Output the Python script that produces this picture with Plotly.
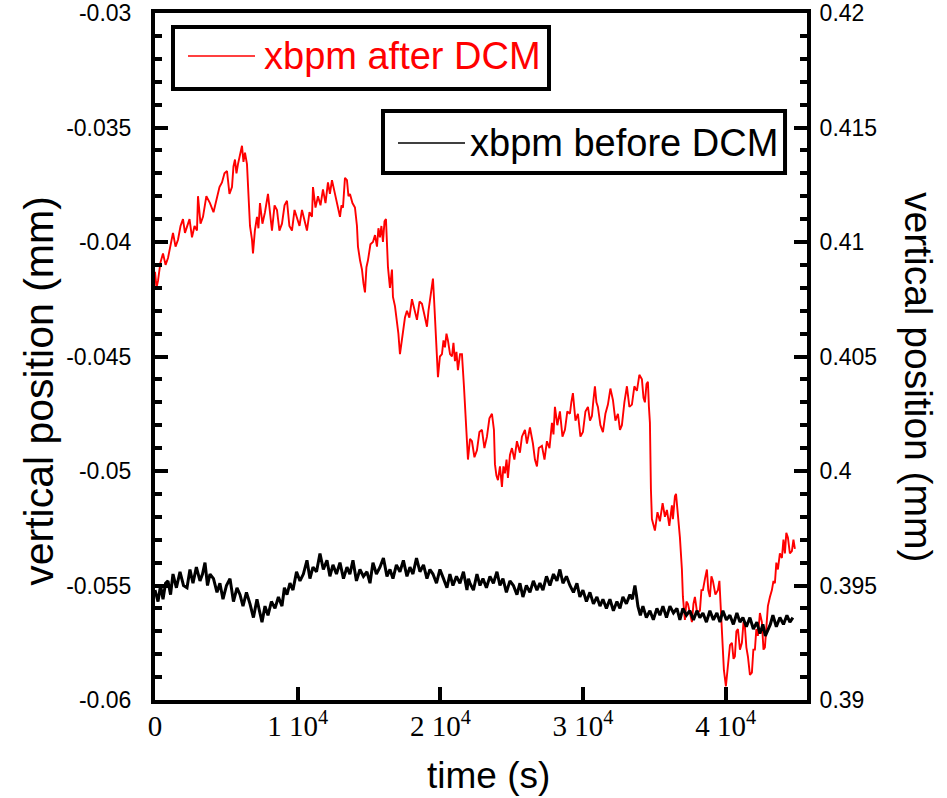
import plotly.graph_objects as go

# ---------------- data ----------------
red_t = [0, 105, 210, 380, 561, 740, 911, 1090, 1261, 1440, 1612, 1790, 1962, 2100, 2243, 2420, 2593, 2770, 2943, 3013,
         3190, 3364, 3600, 3854, 4100, 4345, 4520, 4695, 4870, 5046, 5220, 5396, 5500, 5606, 5710, 5817, 5950, 6097, 6200, 6307,
         6447, 6517, 6658, 6798, 6868, 7000, 7148, 7250, 7358, 7530, 7709, 7919, 8050, 8199, 8380, 8550, 8720, 8900, 9080, 9250,
         9420, 9601, 9780, 9951, 10130, 10302, 10480, 10652, 10830, 11003, 11073, 11250, 11423, 11600, 11773, 11950, 12124, 12260, 12404, 12580,
         12755, 12860, 12965, 13070, 13175, 13315, 13455, 13560, 13666, 13840, 14016, 14156, 14226, 14370, 14507, 14610, 14717, 14820, 14927, 15100,
         15277, 15420, 15558, 15660, 15768, 15870, 15978, 16088, 16188, 16329, 16469, 16609, 16679, 16820, 16959, 17060, 17170, 17270, 17380, 17520,
         17660, 17830, 18011, 18190, 18361, 18540, 18711, 18890, 19062, 19170, 19272, 19380, 19482, 19560, 19622, 19763, 19833, 19970, 20113, 20220,
         20323, 20430, 20533, 20680, 20814, 20920, 21024, 21130, 21234, 21380, 21515, 21655, 21725, 21865, 21935, 22080, 22215, 22390, 22566, 22740,
         22916, 23090, 23267, 23440, 23617, 23757, 23827, 23930, 24037, 24180, 24318, 24420, 24528, 24640, 24738, 24880, 25019, 25190, 25369, 25579,
         25719, 25930, 26070, 26280, 26420, 26490, 26630, 26771, 26900, 27121, 27300, 27471, 27650, 27822, 27930, 28032, 28200, 28382, 28560, 28733,
         28900, 29083, 29180, 29293, 29470, 29644, 29820, 29994, 30170, 30345, 30490, 30625, 30730, 30835, 30940, 31045, 31220, 31396, 31570, 31746,
         31920, 32097, 32270, 32447, 32590, 32727, 32900, 33078, 33250, 33428, 33600, 33779, 33950, 34129, 34240, 34339, 34450, 34549, 34620, 34690,
         34760, 34830, 35040, 35220, 35390, 35580, 35741, 35881, 36050, 36231, 36302, 36442, 36520, 36582, 36652, 36792, 36932, 37002, 37142, 37250,
         37353, 37500, 37633, 37740, 37843, 38000, 38194, 38300, 38404, 38550, 38684, 38780, 38894, 39000, 39105, 39280, 39455, 39560, 39665, 39805,
         39876, 40016, 40156, 40300, 40436, 40550, 40646, 40750, 40857, 41000, 41137, 41250, 41347, 41450, 41558, 41700, 41838, 41940, 42048, 42150,
         42258, 42400, 42539, 42650, 42749, 42850, 42959, 43100, 43239, 43350, 43450, 43550, 43660, 43800, 43940, 44050, 44150, 44250, 44361, 44500,
         44641, 44750, 44851]
red_v = [-0.0413, -0.0420, -0.0417, -0.0409, -0.0405, -0.0410, -0.0407, -0.0401, -0.0396, -0.0402, -0.0399, -0.0393, -0.0390, -0.0396, -0.0393, -0.0390, -0.0398, -0.0393, -0.0395, -0.0380,
         -0.0392, -0.0389, -0.0380, -0.0383, -0.0387, -0.0380, -0.0376, -0.0374, -0.0370, -0.0369, -0.0379, -0.0376, -0.0367, -0.0364, -0.0370, -0.0366, -0.0362, -0.0358, -0.0365, -0.0361,
         -0.0366, -0.0376, -0.0393, -0.0399, -0.0405, -0.0395, -0.0389, -0.0394, -0.0383, -0.0392, -0.0387, -0.0379, -0.0388, -0.0395, -0.0384, -0.0386, -0.0395, -0.0392, -0.0384, -0.0382,
         -0.0393, -0.0395, -0.0386, -0.0389, -0.0393, -0.0386, -0.0390, -0.0395, -0.0387, -0.0389, -0.0376, -0.0385, -0.0380, -0.0384, -0.0377, -0.0383, -0.0374, -0.0379, -0.0373, -0.0378,
         -0.0383, -0.0386, -0.0389, -0.0384, -0.0385, -0.0372, -0.0373, -0.0380, -0.0379, -0.0383, -0.0385, -0.0393, -0.0402, -0.0408, -0.0412, -0.0418, -0.0422, -0.0411, -0.0408, -0.0401,
         -0.0400, -0.0397, -0.0402, -0.0394, -0.0398, -0.0393, -0.0400, -0.0391, -0.0390, -0.0411, -0.0420, -0.0412, -0.0424, -0.0428, -0.0434, -0.0440, -0.0449, -0.0444, -0.0440, -0.0433,
         -0.0430, -0.0433, -0.0425, -0.0430, -0.0434, -0.0426, -0.0427, -0.0432, -0.0437, -0.0430, -0.0425, -0.0422, -0.0416, -0.0425, -0.0434, -0.0452, -0.0459, -0.0450, -0.0449, -0.0443,
         -0.0446, -0.0440, -0.0443, -0.0449, -0.0450, -0.0444, -0.0452, -0.0448, -0.0456, -0.0449, -0.0449, -0.0463, -0.0472, -0.0490, -0.0495, -0.0486, -0.0487, -0.0494, -0.0491, -0.0483,
         -0.0482, -0.0490, -0.0485, -0.0477, -0.0475, -0.0482, -0.0497, -0.0502, -0.0504, -0.0498, -0.0507, -0.0498, -0.0501, -0.0495, -0.0503, -0.0493, -0.0490, -0.0495, -0.0487, -0.0492,
         -0.0485, -0.0482, -0.0488, -0.0481, -0.0486, -0.0488, -0.0495, -0.0498, -0.0490, -0.0489, -0.0495, -0.0487, -0.0490, -0.0479, -0.0484, -0.0472, -0.0480, -0.0474, -0.0485, -0.0482,
         -0.0474, -0.0475, -0.0470, -0.0466, -0.0478, -0.0475, -0.0485, -0.0483, -0.0474, -0.0472, -0.0478, -0.0476, -0.0469, -0.0463, -0.0470, -0.0472, -0.0480, -0.0483, -0.0475, -0.0471,
         -0.0464, -0.0469, -0.0478, -0.0475, -0.0482, -0.0480, -0.0470, -0.0463, -0.0472, -0.0471, -0.0463, -0.0465, -0.0458, -0.0460, -0.0468, -0.0470, -0.0462, -0.0461, -0.0472, -0.0479,
         -0.0508, -0.0521, -0.0526, -0.0518, -0.0522, -0.0514, -0.0520, -0.0517, -0.0524, -0.0515, -0.0521, -0.0511, -0.0510, -0.0514, -0.0518, -0.0529, -0.0543, -0.0555, -0.0565, -0.0557,
         -0.0558, -0.0563, -0.0566, -0.0558, -0.0555, -0.0562, -0.0561, -0.0552, -0.0552, -0.0547, -0.0543, -0.0552, -0.0555, -0.0546, -0.0548, -0.0554, -0.0552, -0.0548, -0.0561, -0.0575,
         -0.0587, -0.0594, -0.0584, -0.0576, -0.0575, -0.0582, -0.0581, -0.0570, -0.0569, -0.0578, -0.0575, -0.0566, -0.0568, -0.0577, -0.0581, -0.0589, -0.0588, -0.0578, -0.0578, -0.0569,
         -0.0572, -0.0562, -0.0566, -0.0578, -0.0577, -0.0570, -0.0559, -0.0555, -0.0552, -0.0548, -0.0549, -0.0540, -0.0543, -0.0536, -0.0538, -0.0530, -0.0536, -0.0527, -0.0529, -0.0536,
         -0.0535, -0.0530, -0.0534]

black_t = [0, 210, 390, 561, 740, 911, 1090, 1261, 1500, 1752, 2000, 2243, 2450, 2663, 2900, 3154, 3330, 3504, 3680, 3854,
           4100, 4345, 4550, 4765, 5010, 5256, 5500, 5747, 5960, 6167, 6410, 6658, 6900, 7148, 7320, 7499, 7710, 7919, 8160, 8410,
           8650, 8900, 9070, 9250, 9460, 9671, 9920, 10162, 10400, 10652, 10860, 11073, 11320, 11563, 11800, 12054, 12260, 12474, 12720, 12965,
           13210, 13455, 13660, 13876, 14120, 14366, 14610, 14857, 15070, 15277, 15520, 15768, 16010, 16259, 16470, 16679, 16920, 17170, 17410, 17660,
           17870, 18081, 18330, 18571, 18820, 19062, 19270, 19482, 19730, 19973, 20220, 20463, 20670, 20884, 21130, 21374, 21620, 21865, 21970, 22075,
           22320, 22566, 22780, 22986, 23230, 23477, 23720, 23967, 24180, 24388, 24630, 24878, 25120, 25369, 25580, 25789, 26030, 26280, 26520, 26771,
           26980, 27191, 27440, 27682, 27930, 28172, 28380, 28593, 28840, 29083, 29330, 29574, 29780, 29994, 30240, 30485, 30730, 30975, 31190, 31396,
           31640, 31886, 32130, 32377, 32590, 32797, 33040, 33288, 33460, 33638, 33740, 33848, 34020, 34199, 34440, 34690, 34930, 35180, 35390, 35601,
           35850, 36091, 36340, 36582, 36790, 37002, 37250, 37493, 37740, 37984, 38190, 38404, 38650, 38894, 39140, 39385, 39600, 39805, 40050, 40296,
           40540, 40786, 41000, 41207, 41450, 41698, 41940, 42188, 42400, 42609, 42780, 42959, 43130, 43310, 43550, 43800, 44050, 44291, 44500, 44711]
black_v = [0.3948, 0.3943, 0.3950, 0.3944, 0.3951, 0.3952, 0.3946, 0.3955, 0.3949, 0.3956, 0.3950, 0.3949, 0.3957, 0.3951, 0.3958, 0.3952, 0.3955, 0.3960, 0.3950, 0.3955,
           0.3953, 0.3947, 0.3951, 0.3944, 0.3950, 0.3953, 0.3943, 0.3949, 0.3946, 0.3941, 0.3947, 0.3942, 0.3936, 0.3944, 0.3939, 0.3934, 0.3941, 0.3937, 0.3943, 0.3940,
           0.3945, 0.3941, 0.3949, 0.3946, 0.3951, 0.3948, 0.3956, 0.3952, 0.3955, 0.3961, 0.3953, 0.3958, 0.3956, 0.3964, 0.3957, 0.3961, 0.3954, 0.3959, 0.3955, 0.3960,
           0.3953, 0.3958, 0.3955, 0.3961, 0.3952, 0.3957, 0.3954, 0.3956, 0.3951, 0.3960, 0.3955, 0.3958, 0.3962, 0.3954, 0.3957, 0.3953, 0.3959, 0.3956, 0.3961, 0.3954,
           0.3958, 0.3955, 0.3962, 0.3956, 0.3959, 0.3953, 0.3957, 0.3955, 0.3951, 0.3957, 0.3953, 0.3949, 0.3955, 0.3950, 0.3954, 0.3951, 0.3956, 0.3948, 0.3953, 0.3951,
           0.3948, 0.3955, 0.3950, 0.3953, 0.3949, 0.3954, 0.3951, 0.3956, 0.3950, 0.3953, 0.3947, 0.3952, 0.3950, 0.3946, 0.3951, 0.3945, 0.3950, 0.3947, 0.3952, 0.3948,
           0.3951, 0.3948, 0.3954, 0.3950, 0.3955, 0.3952, 0.3957, 0.3951, 0.3954, 0.3950, 0.3947, 0.3951, 0.3945, 0.3948, 0.3943, 0.3947, 0.3942, 0.3945, 0.3941, 0.3944,
           0.3940, 0.3944, 0.3939, 0.3943, 0.3940, 0.3945, 0.3942, 0.3946, 0.3944, 0.3950, 0.3946, 0.3941, 0.3937, 0.3941, 0.3936, 0.3939, 0.3935, 0.3940, 0.3937, 0.3941,
           0.3936, 0.3941, 0.3938, 0.3940, 0.3935, 0.3940, 0.3937, 0.3939, 0.3935, 0.3939, 0.3936, 0.3938, 0.3934, 0.3939, 0.3935, 0.3938, 0.3934, 0.3939, 0.3935, 0.3937,
           0.3933, 0.3938, 0.3934, 0.3936, 0.3932, 0.3936, 0.3931, 0.3934, 0.3929, 0.3933, 0.3928, 0.3931, 0.3933, 0.3937, 0.3932, 0.3936, 0.3933, 0.3937, 0.3934, 0.3936]

x_tickvals = [0, 10000, 20000, 30000, 40000]
x_ticktext = ["0", "1 10<sup>4</sup>", "2 10<sup>4</sup>", "3 10<sup>4</sup>", "4 10<sup>4</sup>"]
yl_tickvals = [-0.06, -0.055, -0.05, -0.045, -0.04, -0.035, -0.03]
yl_ticktext = ["-0.06", "-0.055", "-0.05", "-0.045", "-0.04", "-0.035", "-0.03"]
yr_tickvals = [0.39, 0.395, 0.40, 0.405, 0.41, 0.415, 0.42]
yr_ticktext = ["0.39", "0.395", "0.4", "0.405", "0.41", "0.415", "0.42"]

legend_red = "xbpm after DCM"
legend_black = "xbpm before DCM"
x_title = "time (s)"
y_title = "vertical position (mm)"

SANS = "Liberation Sans, Arial, sans-serif"
SERIF = "Liberation Serif, Times New Roman, serif"

fig = go.Figure()
fig.add_trace(go.Scatter(x=red_t, y=red_v, mode="lines", line=dict(color="#ff0000", width=1.9),
                         name=legend_red, yaxis="y", showlegend=False))
fig.add_trace(go.Scatter(x=black_t, y=black_v, mode="lines", line=dict(color="#000000", width=3),
                         name=legend_black, yaxis="y2", showlegend=False))

axis_common = dict(showline=True, linewidth=4, linecolor="black", showgrid=False, zeroline=False,
                   ticks="inside", tickwidth=4, tickcolor="black", ticklen=13, automargin=False,
                   ticklabeloverflow="allow")

fig.update_layout(
    template="none",
    width=947, height=798,
    margin=dict(l=155, r=140, t=13, b=98, autoexpand=False),
    paper_bgcolor="white", plot_bgcolor="white",
    showlegend=False,
    xaxis=dict(range=[0, 45700], tickvals=x_tickvals, ticktext=x_ticktext, mirror=True,
               tickfont=dict(family=SERIF, size=29, color="black"), ticklabelstandoff=-3,
               **axis_common),
    yaxis=dict(range=[-0.06, -0.03], tickvals=yl_tickvals, ticktext=yl_ticktext,
               tickfont=dict(family=SANS, size=23, color="black"), ticklabelstandoff=15,
               minor=dict(ticks="inside", ticklen=7, tickwidth=4, tickcolor="black", dtick=0.001),
               **axis_common),
    yaxis2=dict(range=[0.39, 0.42], tickvals=yr_tickvals, ticktext=yr_ticktext, overlaying="y", side="right",
                tickfont=dict(family=SANS, size=23, color="black"), ticklabelstandoff=4,
                minor=dict(ticks="inside", ticklen=7, tickwidth=4, tickcolor="black", dtick=0.001),
                **axis_common),
)

# axis titles
fig.add_annotation(text=x_title, xref="paper", yref="paper", x=0.511, y=-0.11, xanchor="center", yanchor="middle",
                   showarrow=False, font=dict(family=SANS, size=37, color="black"))
fig.add_annotation(text=y_title, xref="paper", yref="paper", x=-0.178, y=0.45, xanchor="center", yanchor="middle",
                   textangle=-90, showarrow=False, font=dict(family=SANS, size=41, color="black"))
fig.add_annotation(text=y_title, xref="paper", yref="paper", x=1.172, y=0.47, xanchor="center", yanchor="middle",
                   textangle=90, showarrow=False, font=dict(family=SANS, size=39, color="black"))

# legend boxes (drawn manually)
fig.add_shape(type="rect", xref="paper", yref="paper", x0=0.0276, x1=0.6043, y0=0.8894, y1=0.9796,
              line=dict(color="black", width=4), fillcolor="white", layer="above")
fig.add_shape(type="line", xref="paper", yref="paper", x0=0.0506, x1=0.1534, y0=0.9374, y1=0.9374,
              line=dict(color="#ff0000", width=1.3), layer="above")
fig.add_annotation(text=legend_red, xref="paper", yref="paper", x=0.1641, y=0.9374, xanchor="left", yanchor="middle",
                   showarrow=False, font=dict(family=SANS, size=38, color="#ff0000"))

fig.add_shape(type="rect", xref="paper", yref="paper", x0=0.3497, x1=0.9663, y0=0.7671, y1=0.8574,
              line=dict(color="black", width=4), fillcolor="white", layer="above")
fig.add_shape(type="line", xref="paper", yref="paper", x0=0.3727, x1=0.4755, y0=0.8108, y1=0.8108,
              line=dict(color="black", width=1.3), layer="above")
fig.add_annotation(text=legend_black, xref="paper", yref="paper", x=0.480, y=0.8108, xanchor="left", yanchor="middle",
                   showarrow=False, font=dict(family=SANS, size=38, color="black"))

# remove the default 8 px page margin so the figure sits at the window's top-left corner
fig.write_html("out.html", config={"displayModeBar": False},
               post_script="document.body.style.margin='0px';")
